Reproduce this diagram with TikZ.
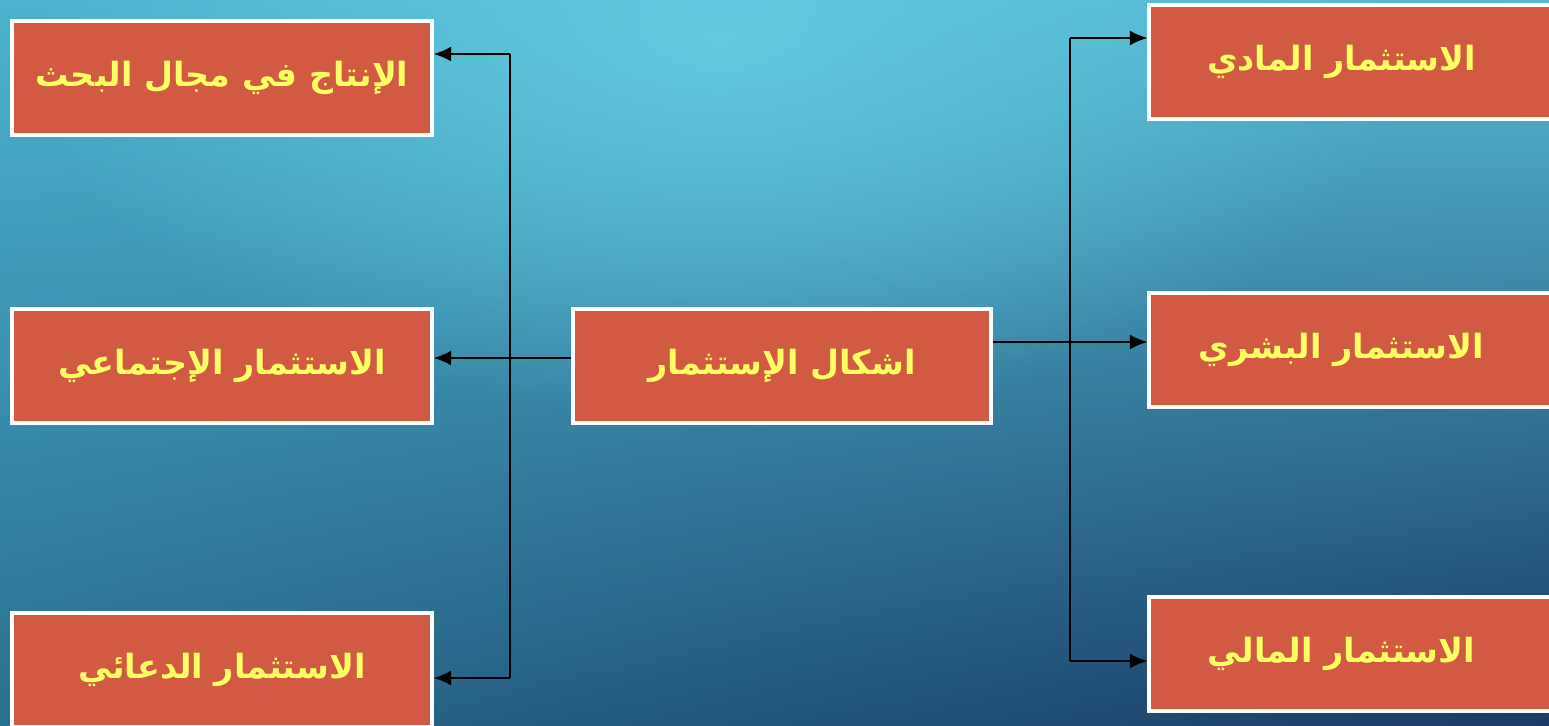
\documentclass[tikz,border=0pt]{standalone}
\usepackage{fontspec}
\TeXXeTstate=1
\newfontfamily\arabicfont[Script=Arabic]{DejaVu Sans}
\usetikzlibrary{arrows.meta,shadings,fadings}
\definecolor{boxred}{HTML}{D35A42}
\definecolor{txtyellow}{HTML}{FFFF66}
\definecolor{bgUL}{HTML}{4AB3CE}
\definecolor{bgUR}{HTML}{55BBD4}
\definecolor{bgLL}{HTML}{2B6F92}
\definecolor{bgLR}{HTML}{1A3B64}
\definecolor{glow}{HTML}{64CBE0}
\tikzfading[name=glowfade, inner color=transparent!0, outer color=transparent!100]
\tikzset{
  formbox/.style={draw=white, line width=1.8pt, fill=boxred, minimum width=8.4cm, minimum height=2.28cm,
    inner sep=0pt, text=txtyellow, font=\arabicfont\bfseries\fontsize{19}{23}\selectfont},
  arr/.style={line width=1.1pt, -{Latex[length=10pt,width=8.5pt]}},
  spine/.style={line width=1.1pt}
}
\begin{document}
\begin{tikzpicture}[x=0.02cm, y=-0.02cm]
\useasboundingbox (0,0) rectangle (1549,725);
\begin{scope}
\clip (0,0) rectangle (1549,725);
\shade[upper left=bgUL, upper right=bgUR, lower left=bgLL, lower right=bgLR] (0,0) rectangle (1549,725);
\fill[glow, path fading=glowfade, fill opacity=0.9] (720,40) ellipse (700 and 380);
\node[formbox] (L1) at (222,78) {\raisebox{-3pt}{\beginR الإنتاج في مجال البحث\endR}};
\node[formbox] (L2) at (222,366) {\raisebox{-3pt}{\beginR الاستثمار الإجتماعي\endR}};
\node[formbox] (L3) at (222,670) {\raisebox{-3pt}{\beginR الاستثمار الدعائي\endR}};
\node[formbox, minimum width=8.36cm] (C) at (782,366) {\raisebox{-3pt}{\beginR اشكال الإستثمار\endR}};
\node[formbox] (R1) at (1359,62) {\hspace*{-20pt}\raisebox{-3pt}{\beginR الاستثمار المادي\endR}};
\node[formbox] (R2) at (1359,350) {\hspace*{-20pt}\raisebox{-3pt}{\beginR الاستثمار البشري\endR}};
\node[formbox] (R3) at (1359,654) {\hspace*{-20pt}\raisebox{-3pt}{\beginR الاستثمار المالي\endR}};
\end{scope}
\coordinate (lt) at (510,54);
\coordinate (lb) at (510,678);
\coordinate (yl) at (0,358);
\coordinate (rt) at (1070,38);
\coordinate (rb) at (1070,661);
\coordinate (yr) at (0,342);
\draw[spine] (lt) -- (lb);
\draw[arr] (lt) -- (L1.east |- lt);
\draw[arr] (lb) -- (L3.east |- lb);
\draw[arr] (C.west |- yl) -- (L2.east |- yl);
\draw[spine] (rt) -- (rb);
\draw[arr] (rt) -- (R1.west |- rt);
\draw[arr] (rb) -- (R3.west |- rb);
\draw[arr] (C.east |- yr) -- (R2.west |- yr);
\end{tikzpicture}
\end{document}
